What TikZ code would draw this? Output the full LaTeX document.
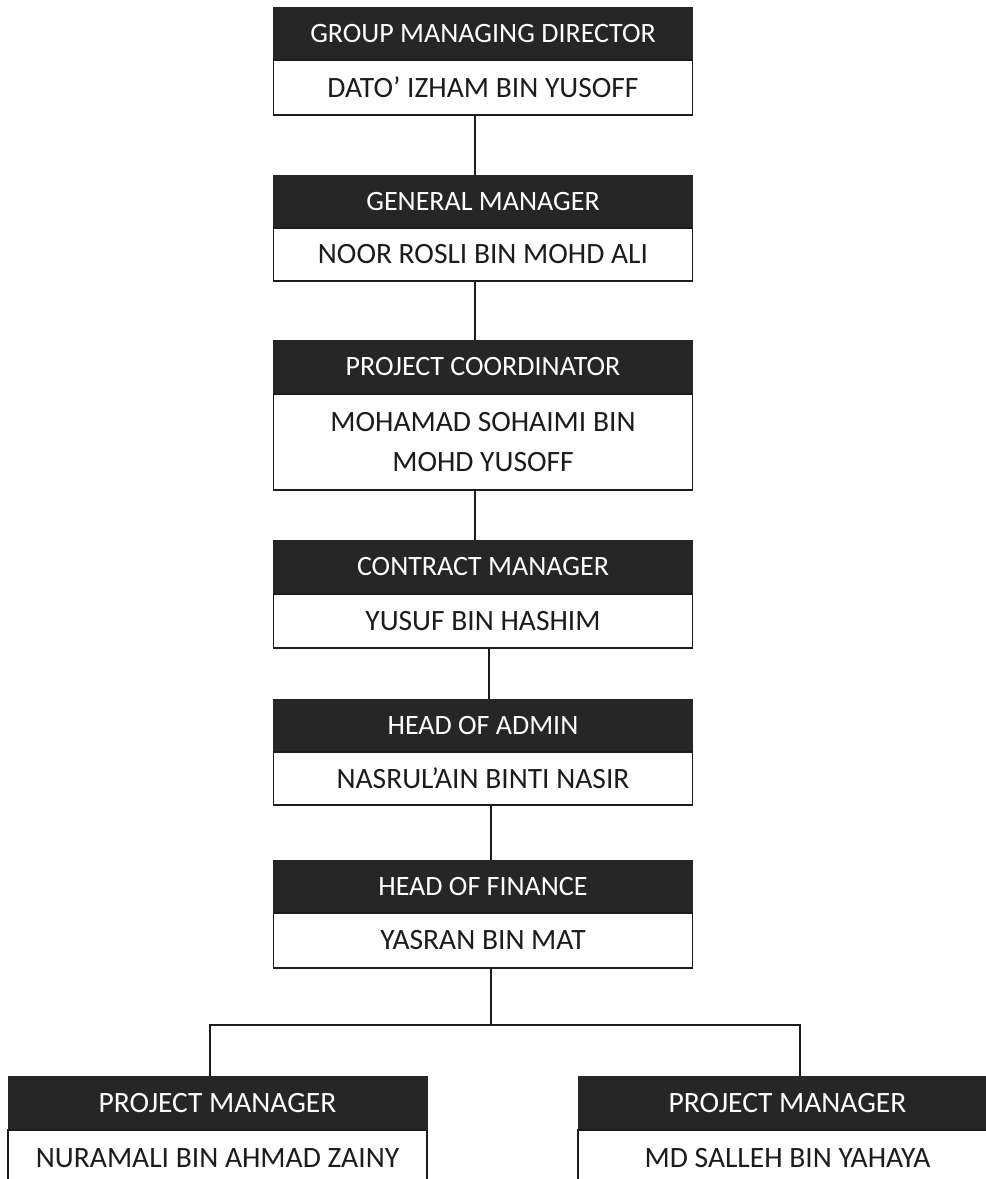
\documentclass[tikz,border=0pt]{standalone}
\usepackage{fontspec}
\setmainfont{Carlito}
\definecolor{hdr}{HTML}{262626}
\definecolor{ink}{HTML}{1C1C1C}
\begin{document}
\begin{tikzpicture}[x=1pt,y=-1pt,
  hbox/.style={rectangle,fill=hdr,draw=hdr,line width=1pt,minimum width=419pt,inner sep=0pt,
    text=white,font=\fontsize{28}{30}\selectfont},
  nbox/.style={rectangle,fill=white,draw=ink,line width=1.5pt,minimum width=419pt,inner sep=0pt,
    text=ink,align=center,font=\fontsize{29.5}{40}\selectfont},
  bighdr/.style={font=\fontsize{29.5}{32}\selectfont},
  conn/.style={draw=ink,line width=1.5pt}]
\clip (0,0) rectangle (986,1179);
\fill[white] (0,0) rectangle (986,1179);
% box 1
\node[hbox,minimum height=53pt] (h1) at (483,33.5) {GROUP MANAGING DIRECTOR};
\node[nbox,minimum height=55pt] (n1) at (483,87.5) {DATO’ IZHAM BIN YUSOFF};
% box 2
\node[hbox,minimum height=53pt] (h2) at (483,201.5) {GENERAL MANAGER};
\node[nbox,minimum height=53pt] (n2) at (483,254.5) {NOOR ROSLI BIN MOHD ALI};
% box 3
\node[hbox,minimum height=54pt] (h3) at (483,367) {PROJECT COORDINATOR};
\node[nbox,minimum height=96pt] (n3) at (483,442) {MOHAMAD SOHAIMI BIN\\MOHD YUSOFF};
% box 4
\node[hbox,minimum height=54pt] (h4) at (483,567) {CONTRACT MANAGER};
\node[nbox,minimum height=54pt] (n4) at (483,621) {YUSUF BIN HASHIM};
% box 5
\node[hbox,minimum height=53pt] (h5) at (483,725.5) {HEAD OF ADMIN};
\node[nbox,minimum height=53pt] (n5) at (483,778.5) {NASRUL’AIN BINTI NASIR};
% box 6
\node[hbox,minimum height=53pt] (h6) at (483,886.5) {HEAD OF FINANCE};
\node[nbox,minimum height=55pt] (n6) at (483,940.5) {YASRAN BIN MAT};
% project managers
\node[hbox,bighdr,minimum height=54pt] (hl) at (217.5,1103) {PROJECT MANAGER};
\node[nbox,minimum height=56pt] (nl) at (217.5,1158) {NURAMALI BIN AHMAD ZAINY};
\node[hbox,bighdr,minimum height=54pt] (hr) at (787.5,1103) {PROJECT MANAGER};
\node[nbox,minimum height=56pt] (nr) at (787.5,1158) {MD SALLEH BIN YAHAYA};
% connectors
\draw[conn] ([xshift=-8pt]n1.south) -- ([xshift=-8pt]h2.north);
\draw[conn] ([xshift=-8pt]n2.south) -- ([xshift=-8pt]h3.north);
\draw[conn] ([xshift=-8pt]n3.south) -- ([xshift=-8pt]h4.north);
\draw[conn] ([xshift=6pt]n4.south) -- ([xshift=6pt]h5.north);
\draw[conn] ([xshift=8pt]n5.south) -- ([xshift=8pt]h6.north);
\coordinate (bm) at (491,1025);
\coordinate (bl) at (210,1025);
\coordinate (bR) at (800,1025);
\draw[conn] ([xshift=8pt]n6.south) -- (bm);
\draw[conn] ([xshift=-7.5pt]hl.north) -- (bl) -- (bR) -- ([xshift=12.5pt]hr.north);
\end{tikzpicture}
\end{document}
